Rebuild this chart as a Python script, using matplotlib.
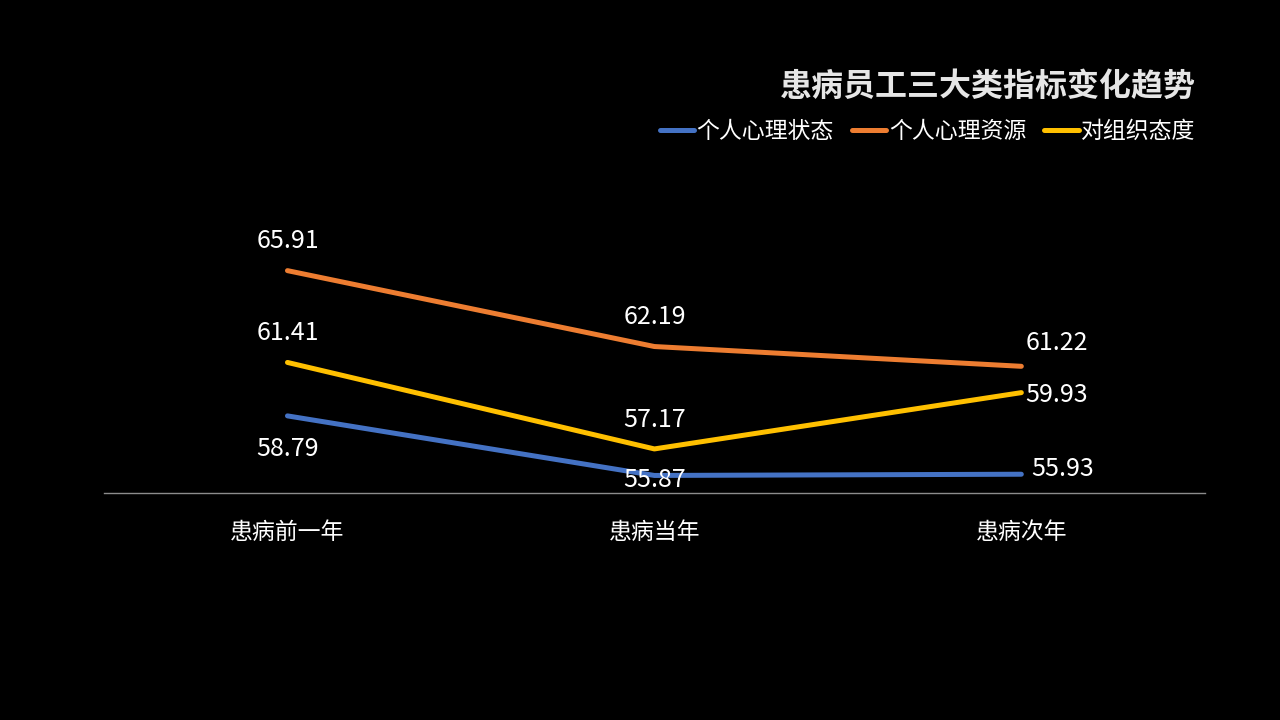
import matplotlib.pyplot as plt

plt.rcParams['font.family'] = ['Noto Sans CJK SC', 'DejaVu Sans']

cats = ["患病前一年", "患病当年", "患病次年"]
state = [58.79, 55.87, 55.93]
resource = [65.91, 62.19, 61.22]
attitude = [61.41, 57.17, 59.93]
names = ["个人心理状态", "个人心理资源", "对组织态度"]
colors = ["#4472C4", "#ED7D31", "#FFC000"]

fig = plt.figure(figsize=(12.8, 7.2), dpi=100, facecolor="black")
ax = fig.add_axes([0.08125, 0.315, 0.86, 0.34])
ax.set_facecolor("black")

x = list(range(len(cats)))
for vals, name, c in zip([state, resource, attitude], names, colors):
    ax.plot(x, vals, color=c, lw=3.6, label=name, solid_capstyle="round", clip_on=False)

# value labels (offsets in points)
offsets = {
    0: [(0, -24, "center"), (0, 21, "center"), (0, 21, "center")],
    1: [(0, -3, "center"), (0, 21, "center"), (0, 21, "center")],
    2: [(7, 4, "left"), (3, 17, "left"), (3, -2, "left")],
}
for si, vals in enumerate([state, resource, attitude]):
    for i, v in enumerate(vals):
        dx, dy, ha = offsets[i][si]
        ax.annotate(f"{v:.2f}", (i, v), xytext=(dx, dy), textcoords="offset points",
                    ha=ha, va="center", color="white", fontsize=18)

ax.set_xlim(-0.5, 2.5)
ax.set_ylim(55, 67)
ax.set_xticks(x)
ax.set_xticklabels(cats, color="white", fontsize=16.5)
ax.tick_params(axis="x", length=0, pad=20)
ax.set_yticks([])
for s in ["top", "right", "left"]:
    ax.spines[s].set_visible(False)
ax.spines["bottom"].set_color("#8c8c8c")
ax.spines["bottom"].set_linewidth(1)

fig.text(0.934, 0.879, "患病员工三大类指标变化趋势", ha="right", va="center",
         color="#e6e6e6", fontsize=23, fontweight="bold")
leg = fig.legend(loc="center right", bbox_to_anchor=(0.95, 0.817), ncol=3, frameon=False,
                 fontsize=16.5, handlelength=1.5, handletextpad=0.1, columnspacing=0.8,
                 labelcolor="white")

fig.savefig("out.png", dpi=100, facecolor="black")
